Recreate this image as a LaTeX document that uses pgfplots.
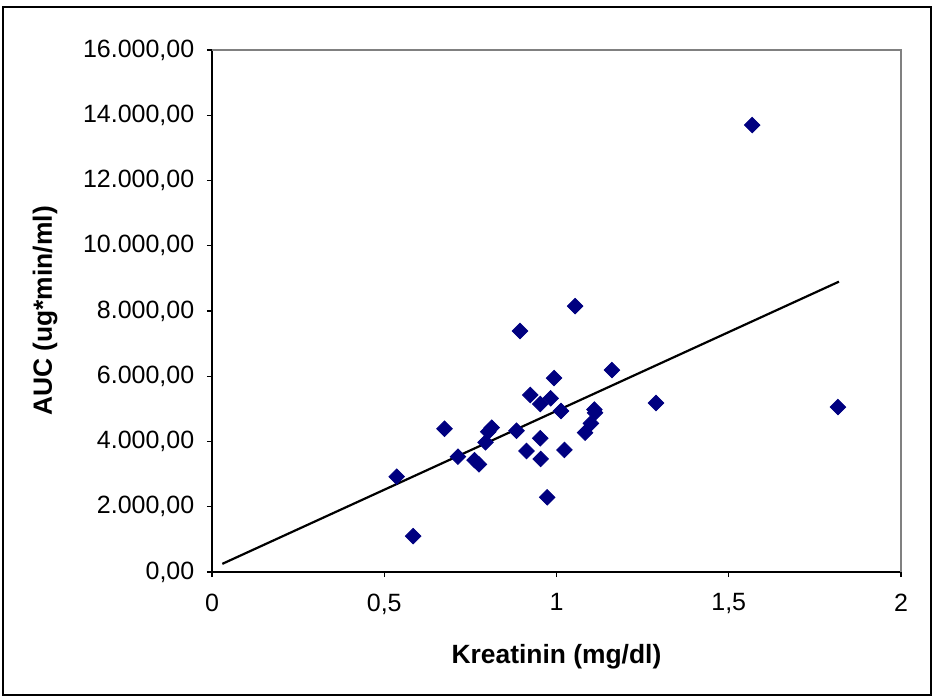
\documentclass[border=0pt]{standalone}
\usepackage{pgfplots}
\pgfplotsset{compat=1.18}
\usepackage{fontspec}
\setmainfont{Liberation Sans}
\definecolor{navy}{RGB}{0,0,128}
\begin{document}
\fontsize{12.5}{15}\selectfont
\begin{tikzpicture}
\path (-106pt,-63pt) rectangle (361pt,286pt);
\draw[black, line width=0.8pt] (-104.5pt,-61.5pt) rectangle (359.5pt,282.5pt);
\begin{axis}[
  at={(0,0)}, anchor=south west,
  scale only axis, width=344.5pt, height=261pt,
  xmin=0, xmax=2, ymin=0, ymax=16000,
  axis x line*=bottom, axis y line*=left,
  axis line style={black, line width=0.6pt},
  xtick={0,0.5,1,1.5,2},
  ytick={0,2000,4000,6000,8000,10000,12000,14000,16000},
  tick align=outside, major tick length=2.5pt,
  tick style={black, line width=0.6pt},
  scaled y ticks=false,
  xticklabel style={/pgf/number format/use comma, /pgf/number format/1000 sep={}, /pgf/number format/assume math mode=true, yshift=-4pt},
  yticklabel style={/pgf/number format/fixed, /pgf/number format/fixed zerofill, /pgf/number format/precision=2, /pgf/number format/use comma, /pgf/number format/1000 sep={.}, /pgf/number format/assume math mode=true, xshift=-2pt},
  every tick label/.append style={font=\fontsize{12.5}{15}\selectfont},
  xlabel={\bfseries Kreatinin (mg/dl)},
  ylabel={\bfseries AUC (ug*min/ml)},
  xlabel style={at={(axis description cs:0.5,-0.1628)}, anchor=center, font=\fontsize{13.2}{16}\selectfont},
  ylabel style={at={(axis description cs:-0.2424,0.5)}, anchor=center, font=\fontsize{13.2}{16}\selectfont},
  clip=false,
]
\draw[gray, line width=0.6pt] (rel axis cs:0,1) -- (rel axis cs:1,1) -- (rel axis cs:1,0);
\addplot[only marks, mark=square*, mark size=2.75pt, mark options={rotate=45, fill=navy, draw=navy}] coordinates {
(0.536,2920)
(0.584,1100)
(0.675,4390)
(0.714,3535)
(0.762,3430)
(0.775,3300)
(0.794,3975)
(0.802,4300)
(0.812,4425)
(0.884,4330)
(0.894,7385)
(0.913,3710)
(0.924,5425)
(0.953,5150)
(0.953,4100)
(0.954,3465)
(0.973,2290)
(0.983,5325)
(0.993,5945)
(1.013,4935)
(1.023,3740)
(1.054,8150)
(1.083,4270)
(1.100,4555)
(1.110,4980)
(1.112,4880)
(1.161,6190)
(1.289,5180)
(1.568,13700)
(1.817,5055)
};
\addplot[black, line width=1.1pt] coordinates {(0.03,250) (1.82,8900)};
\end{axis}
\end{tikzpicture}
\end{document}
